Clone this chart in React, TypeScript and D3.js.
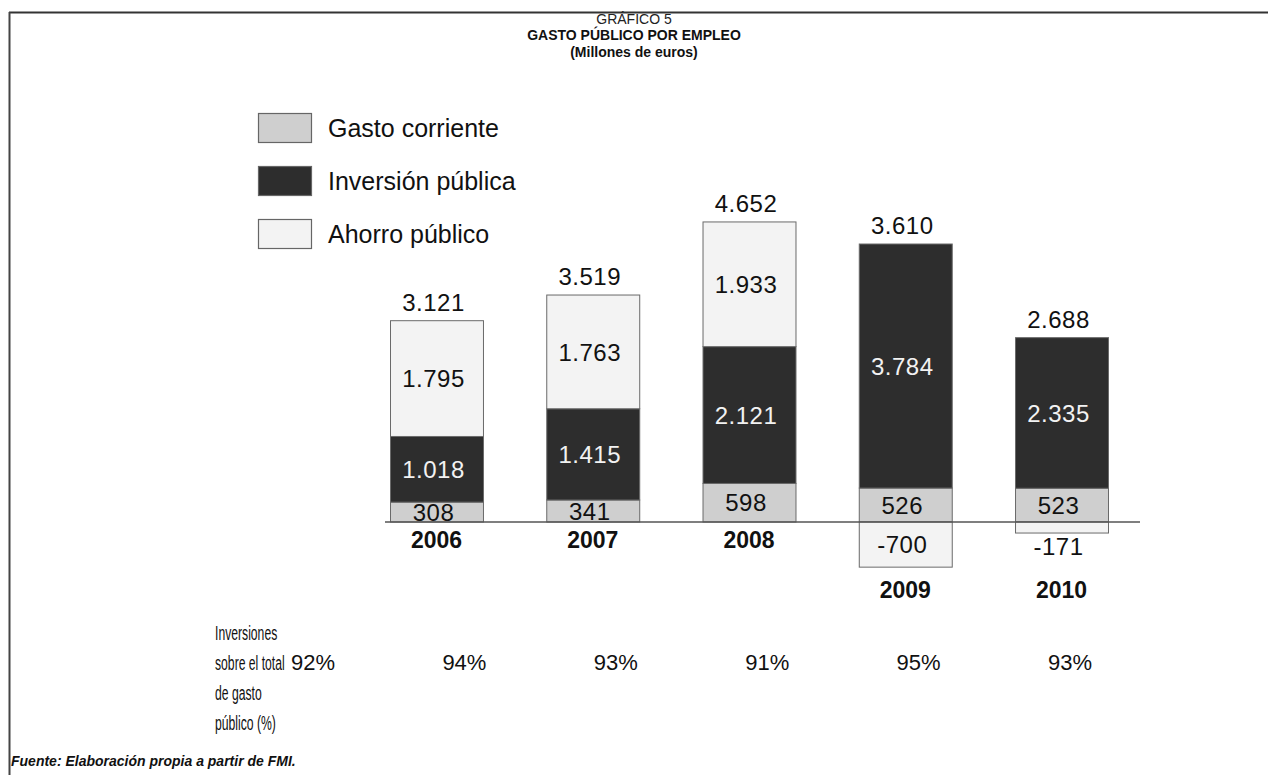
import React from 'react';
import * as d3 from 'd3';

const years = ['2006', '2007', '2008', '2009', '2010'];
const gastoCorriente = [308, 341, 598, 526, 523];
const inversionPublica = [1018, 1415, 2121, 3784, 2335];
const ahorroPublico = [1795, 1763, 1933, -700, -171];
const totalLabels = [3121, 3519, 4652, 3610, 2688];
const pctKeys = ['a', 'b', 'c', 'd', 'e', 'f'];
const pctLabels = ['92%', '94%', '93%', '91%', '95%', '93%'];
const pctRowLabel = ['Inversiones', 'sobre el total', 'de gasto', 'público (%)'];
const seriesNames = ['Gasto corriente', 'Inversión pública', 'Ahorro público'];
const seriesKeys = ['gasto', 'inversion', 'ahorro'];
const seriesColors = ['#cfcfcf', '#2d2d2d', '#f3f3f3'];
const seriesTextColors = ['#111', '#f2f2f2', '#111'];

const W = 1268;
const H = 775;
const FONT = "'Liberation Sans', Arial, Helvetica, sans-serif";

const loc = d3.formatLocale({ decimal: ',', thousands: '.', grouping: [3], currency: ['', '€'], minus: '-' });
const fmt = loc.format(',d');

export default function App() {
  const rows = years.map((y, i) => ({
    year: y,
    gasto: gastoCorriente[i],
    inversion: inversionPublica[i],
    ahorro: ahorroPublico[i],
  }));
  const stack = d3.stack<any>().keys(seriesKeys).offset(d3.stackOffsetDiverging);
  const layers = stack(rows);

  const x = d3.scaleBand<string>().domain(years).range([390, 1108]).paddingInner(0.405).paddingOuter(0);
  const y = d3.scaleLinear().domain([-1000, 5000]).range([586.5, 199.5]);
  const xPct = d3.scalePoint<string>().domain(pctKeys).range([313, 1070]);

  const y0 = y(0);
  const minNeg = d3.min(ahorroPublico.filter(v => v < 0)) ?? 0;
  const lowerRowBaseline = y(minNeg) + 31;
  const labelShift = -3;

  return (
    <svg width={W} height={H} style={{ position: 'absolute', left: 0, top: 0, background: '#fff' }} fontFamily={FONT}>
      <rect x={0} y={0} width={W} height={H} fill="#fff" />
      {/* frame */}
      <line x1={9} x2={W} y1={12.5} y2={12.5} stroke="#333" strokeWidth={2} />
      <line x1={9.5} x2={9.5} y1={12} y2={H} stroke="#444" strokeWidth={2} />

      {/* titles */}
      <text x={634} y={24} textAnchor="middle" fontSize={14} fill="#222">GRÁFICO 5</text>
      <text x={634} y={40} textAnchor="middle" fontSize={14} fontWeight="bold" fill="#111">GASTO PÚBLICO POR EMPLEO</text>
      <text x={634} y={57} textAnchor="middle" fontSize={14} fontWeight="bold" fill="#111">(Millones de euros)</text>

      {/* legend */}
      {seriesNames.map((name, i) => (
        <g key={name}>
          <rect x={258.5} y={113.5 + i * 53} width={53} height={29} fill={seriesColors[i]} stroke="#666" strokeWidth={1.2} />
          <text x={328} y={128 + i * 53 + 9} fontSize={25} fill="#111">{name}</text>
        </g>
      ))}

      {/* bars */}
      {layers.map((layer, li) => (
        <g key={layer.key}>
          {layer.map((d, i) => {
            const top = y(Math.max(d[0], d[1]));
            const bot = y(Math.min(d[0], d[1]));
            const v = (rows[i] as any)[layer.key];
            if (v === 0) return null;
            const h = bot - top;
            let cy = (top + bot) / 2;
            let fill = seriesTextColors[li];
            if (h < 18) {
              cy = v < 0 ? bot + 13 : top - 13;
              fill = '#111';
            }
            return (
              <g key={i}>
                <rect x={x(years[i])! + 0.5} y={top} width={x.bandwidth()} height={h} fill={seriesColors[li]} stroke="#6a6a6a" strokeWidth={1} />
                <text x={x(years[i])! + x.bandwidth() / 2 + labelShift} y={cy} dy="0.36em" textAnchor="middle" fontSize={24} letterSpacing={0.5} fill={fill}>{fmt(v)}</text>
              </g>
            );
          })}
        </g>
      ))}

      {/* totals */}
      {years.map((yr, i) => {
        const posTop = d3.max(layers, l => Math.max(l[i][0], l[i][1]))!;
        return (
          <text key={yr} x={x(yr)! + x.bandwidth() / 2 + labelShift} y={y(posTop) - 10} textAnchor="middle" fontSize={24} letterSpacing={0.5} fill="#111">{fmt(totalLabels[i])}</text>
        );
      })}

      {/* baseline */}
      <line x1={385} x2={1140} y1={y0} y2={y0} stroke="#555" strokeWidth={1.5} />

      {/* year labels */}
      {years.map((yr, i) => {
        const hasNeg = ahorroPublico[i] < 0;
        return (
          <text key={yr} x={x(yr)! + x.bandwidth() / 2} y={hasNeg ? lowerRowBaseline : y0 + 26} textAnchor="middle" fontSize={23} fontWeight="bold" fill="#111">{yr}</text>
        );
      })}

      {/* percentage row */}
      {pctRowLabel.map((t, i) => (
        <text key={t} transform={`translate(215,${640 + i * 30}) scale(0.58,1)`} fontSize={21} fill="#111">{t}</text>
      ))}
      {pctKeys.map((k, i) => (
        <text key={k} x={xPct(k)!} y={670} textAnchor="middle" fontSize={22} fill="#111">{pctLabels[i]}</text>
      ))}

      {/* footer */}
      <text x={11} y={766} fontSize={14} fontWeight="bold" fontStyle="italic" fill="#111">Fuente: Elaboración propia a partir de FMI.</text>
    </svg>
  );
}
